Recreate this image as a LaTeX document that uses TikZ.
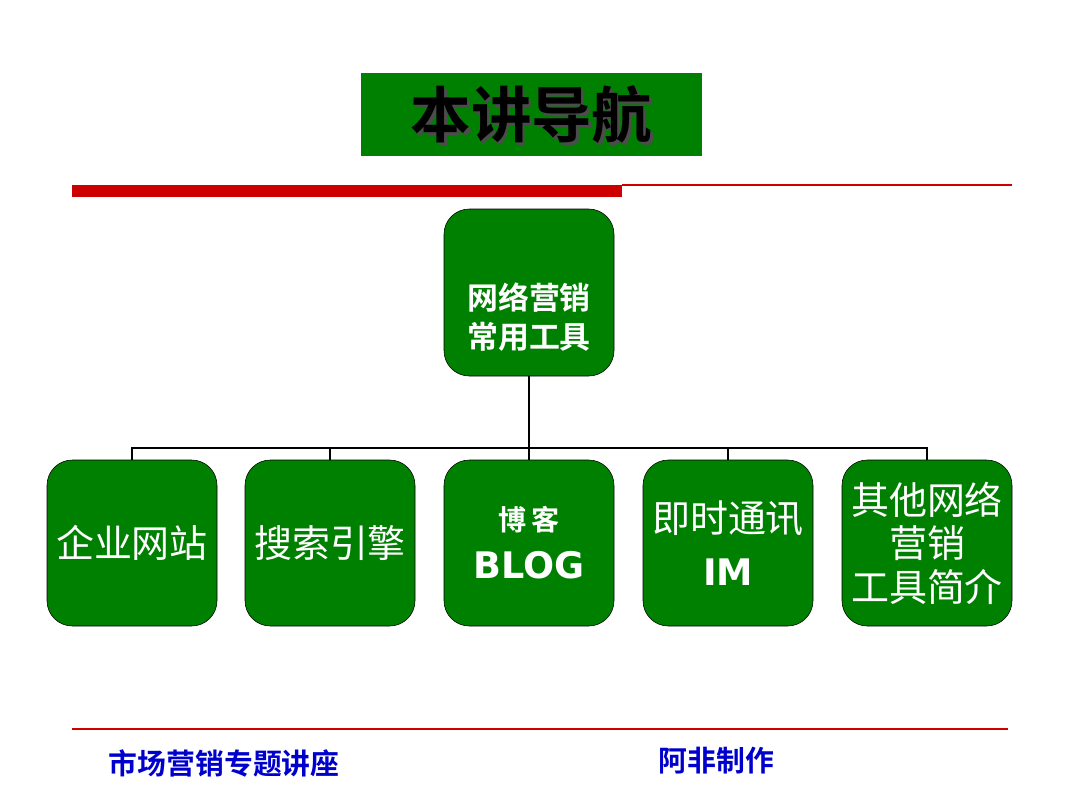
\documentclass[tikz,border=0pt]{standalone}
\usepackage{fontspec}
\newfontfamily\cjk{Noto Sans CJK SC}
\newfontfamily\cjkb{Noto Sans CJK SC Bold}
\setsansfont{DejaVu Sans}
\definecolor{boxgreen}{RGB}{0,128,0}
\definecolor{barred}{RGB}{204,0,0}
\definecolor{footblue}{RGB}{0,0,204}
\tikzset{
  toolbox/.style={draw=black, fill=boxgreen, rounded corners=18, minimum width=170*0.025cm, minimum height=166*0.025cm, text=white, align=center, inner sep=1pt, font=\cjk\fontsize{27}{31}\selectfont},
  link/.style={thick, black}
}
\begin{document}
\begin{tikzpicture}[x=0.025cm, y=-0.025cm]
\useasboundingbox (0,0) rectangle (1080,810);
\node[fill=boxgreen, minimum width=341*0.025cm, minimum height=83*0.025cm] (title) at (531.5,114.5) {};
\node[text=gray!60!black] (titleshadow) at (534,118) {\cjkb\fontsize{43}{46}\selectfont 本讲导航};
\node (titletext) at (531.5,114.5) {\cjkb\fontsize{43}{46}\selectfont 本讲导航};
\fill[barred] (72,185) rectangle (622,197);
\draw[barred, thick] (622,185) -- (1012,185);
\node[toolbox, minimum height=167*0.025cm] (root) at (529,292.5) {};
\node[text=white, align=center, font=\cjkb\fontsize{22}{28}\selectfont] (roottext) at (529,317) {网络营销\\常用工具};
\node[toolbox] (c1) at (132,543) {企业网站};
\node[toolbox] (c2) at (330,543) {搜索引擎};
\node[toolbox, font=\cjkb\fontsize{20}{34}\selectfont] (c3) at (529,543) {博\,客\\{\sffamily\bfseries\fontsize{26}{28}\selectfont BLOG}};
\node[toolbox, font=\cjk\fontsize{27}{38}\selectfont] (c4) at (728,543) {即时通讯\\{\sffamily\bfseries\fontsize{26}{28}\selectfont IM}};
\node[toolbox, font=\cjk\fontsize{27}{31}\selectfont] (c5) at (927,543) {其他网络\\营销\\工具简介};
\coordinate (bus) at (529,448);
\draw[link] (root.south) -- (bus);
\draw[link] (c1.north) |- (bus) -| (c5.north);
\foreach \c in {c2,c3,c4} \draw[link] (\c.north) -- (\c.north |- bus);
\draw[barred, thick] (72,729) -- (1008,729);
\node[text=footblue, anchor=west] (foot1) at (104,763) {\cjkb\fontsize{20.5}{22}\selectfont 市场营销专题讲座};
\node[text=footblue, anchor=west] (foot2) at (654,761) {\cjkb\fontsize{20.5}{22}\selectfont 阿非制作};
\end{tikzpicture}
\end{document}
